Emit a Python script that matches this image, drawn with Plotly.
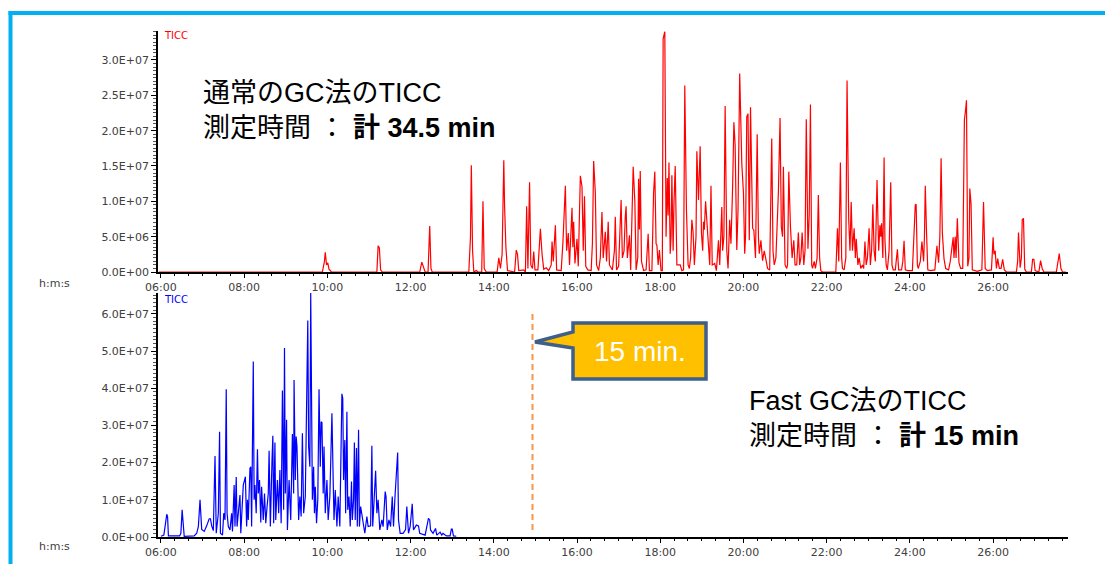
import plotly.graph_objects as go

# ---------------- data ----------------
# Normal GC: retention time (min) and TIC intensity (x1e6 counts)
normal_time = [
    5.95, 9.88, 9.93, 9.95, 9.98, 10.01, 10.04, 10.10,
    11.19, 11.22, 11.25, 11.28, 11.32,
    12.22, 12.27, 12.31, 12.35, 12.42, 12.46, 12.49, 12.52,
    13.40, 13.44, 13.46, 13.49, 13.52, 13.58, 13.62, 13.71, 13.74, 13.77, 13.82,
    14.08, 14.12, 14.16, 14.20, 14.24, 14.26, 14.29, 14.33, 14.50, 14.54, 14.57, 14.60, 14.72, 14.76, 14.79, 14.82, 14.86, 14.89, 14.93, 14.96, 14.99,
    15.06, 15.10, 15.12, 15.16, 15.20, 15.26, 15.32, 15.38, 15.40, 15.43, 15.48, 15.51, 15.62, 15.66, 15.68, 15.72, 15.75, 15.79, 15.82, 15.88, 15.90, 15.92, 15.95,
    16.00, 16.03, 16.08, 16.12, 16.15, 16.18, 16.21, 16.26, 16.34, 16.37, 16.40, 16.44, 16.47, 16.52, 16.56, 16.60, 16.63, 16.68, 16.71, 16.75, 16.78, 16.85, 16.90, 16.92, 16.95,
    17.00, 17.06, 17.09, 17.13, 17.16, 17.18, 17.21, 17.26, 17.29, 17.35, 17.39, 17.42, 17.46, 17.48, 17.50, 17.52, 17.55, 17.60, 17.66, 17.71, 17.74, 17.80, 17.84, 17.87, 17.90, 17.92, 17.95, 17.98,
    18.02, 18.05, 18.07, 18.11, 18.14, 18.17, 18.19, 18.21, 18.24, 18.26, 18.28, 18.31, 18.33, 18.36, 18.40, 18.48, 18.52, 18.56, 18.59, 18.63, 18.67, 18.70, 18.73, 18.76, 18.79, 18.82, 18.86, 18.88, 18.92, 18.96, 18.99,
    19.02, 19.04, 19.06, 19.09, 19.12, 19.15, 19.19, 19.22, 19.25, 19.31, 19.35, 19.40, 19.43, 19.48, 19.50, 19.53, 19.56, 19.60, 19.63, 19.67, 19.70, 19.74, 19.77, 19.80, 19.84, 19.87, 19.91, 19.96,
    20.00, 20.03, 20.05, 20.08, 20.11, 20.14, 20.17, 20.22, 20.25, 20.29, 20.33, 20.36, 20.38, 20.42, 20.46, 20.50, 20.54, 20.58, 20.63, 20.68, 20.71, 20.74, 20.78, 20.81, 20.84, 20.88, 20.91, 20.94, 20.96,
    21.00, 21.04, 21.06, 21.09, 21.13, 21.17, 21.21, 21.24, 21.28, 21.32, 21.35, 21.38, 21.41, 21.45, 21.48, 21.51, 21.55, 21.58, 21.61, 21.64, 21.66, 21.70, 21.73, 21.77, 21.80, 21.83, 21.86, 21.90,
    22.22, 22.26, 22.29, 22.33, 22.36, 22.38, 22.42, 22.46, 22.49, 22.53, 22.56, 22.59, 22.62, 22.66, 22.69, 22.71, 22.75, 22.78, 22.82, 22.86, 22.89, 22.92, 22.95, 22.98,
    23.02, 23.05, 23.08, 23.11, 23.14, 23.17, 23.21, 23.25, 23.28, 23.30, 23.32, 23.35, 23.38, 23.40, 23.43, 23.46, 23.50, 23.54, 23.57, 23.60, 23.65, 23.70, 23.73, 23.80, 23.83, 23.86, 23.89, 23.95,
    24.06, 24.10, 24.13, 24.15, 24.18, 24.20, 24.25, 24.29, 24.33, 24.35, 24.37, 24.40, 24.43, 24.50, 24.60, 24.65, 24.69, 24.72, 24.75, 24.78, 24.82, 24.86, 24.93, 24.97,
    25.00, 25.04, 25.06, 25.09, 25.11, 25.14, 25.18, 25.22, 25.27, 25.29, 25.31, 25.34, 25.36, 25.39, 25.42, 25.44, 25.47, 25.50, 25.55, 25.62, 25.73, 25.77, 25.81, 25.86, 25.96,
    26.00, 26.02, 26.05, 26.08, 26.11, 26.15, 26.19, 26.23, 26.27, 26.32, 26.56, 26.59, 26.61, 26.65, 26.68, 26.70, 26.73, 26.76, 26.80, 26.92, 26.95, 26.98, 27.01, 27.10, 27.14, 27.18, 27.22, 27.52, 27.56, 27.59, 27.63, 27.67, 27.75,
]
normal_tic = [
    0, 0, 1.5, 2.8, 1.0, 1.3, 0.4, 0,
    0, 3.7, 3.4, 0.3, 0,
    0, 1.4, 0.8, 0, 0, 6.5, 0.5, 0,
    0, 5.0, 15.1, 3.0, 0, 0.2, 0, 0, 10.0, 0.5, 0,
    0, 2.0, 0.5, 2.5, 15.8, 9.2, 3.6, 0.2, 0, 3.1, 2.5, 0.2, 0.3, 0, 9.3, 0.5, 12.7, 1.0, 0.5, 2.9, 0.3,
    0.3, 5.0, 6.1, 2.5, 0.4, 0.6, 0.2, 1.0, 4.3, 1.5, 6.6, 0.3, 0.2, 4.0, 7.0, 12.2, 3.0, 5.5, 1.0, 9.1, 3.5, 7.1, 1.2,
    4.7, 0.8, 13.6, 12.1, 3.0, 10.7, 0.8, 0.3, 0.2, 4.0, 15.7, 11.2, 1.0, 0.2, 2.0, 8.5, 2.0, 5.7, 1.5, 7.1, 1.0, 0.3, 3.1, 7.8, 0.3,
    0.8, 10.2, 2.0, 3.0, 7.8, 9.3, 2.0, 5.2, 0.3, 14.9, 10.0, 0.3, 2.0, 13.2, 6.0, 14.3, 1.5, 0.2, 0.3, 5.4, 0.2, 0.2, 11.2, 14.2, 4.0, 3.8, 1.0, 3.1,
    0.2, 0.2, 33.0, 34.0, 5.0, 13.3, 8.0, 15.5, 2.6, 5.0, 13.7, 3.0, 9.7, 15.0, 1.0, 1.0, 0.2, 0.3, 26.4, 8.8, 1.0, 0.5, 2.0, 7.4, 5.6, 1.0, 5.0, 17.1, 10.2, 17.8, 5.6,
    3.0, 7.1, 6.0, 10.0, 7.0, 5.0, 1.0, 12.2, 1.0, 1.2, 0.2, 4.5, 1.0, 9.2, 3.0, 5.0, 23.5, 3.0, 0.5, 7.4, 4.0, 12.1, 21.2, 18.0, 3.1, 8.8, 28.1, 15.4,
    11.2, 2.6, 5.0, 22.0, 22.4, 4.5, 23.3, 6.2, 5.9, 2.0, 19.5, 5.0, 2.6, 4.5, 1.6, 3.0, 1.6, 0.5, 0.3, 18.9, 3.0, 1.0, 2.0, 5.6, 11.3, 21.8, 6.4, 5.0, 14.9,
    1.0, 0.5, 1.0, 14.2, 6.4, 2.0, 4.5, 1.0, 1.0, 5.6, 1.0, 2.0, 5.6, 1.0, 3.0, 21.6, 3.3, 8.0, 23.7, 1.0, 0.5, 1.5, 0.5, 2.0, 10.9, 2.0, 0.2, 0,
    0, 6.2, 1.5, 15.5, 2.0, 0.5, 0.3, 2.0, 27.1, 7.4, 3.0, 9.9, 3.0, 6.2, 2.0, 4.7, 1.0, 2.0, 0.5, 1.0, 0.5, 4.3, 1.0, 2.0,
    6.2, 1.0, 3.0, 9.6, 3.0, 1.5, 13.0, 3.0, 6.6, 5.0, 6.9, 2.0, 16.2, 4.6, 1.0, 0.3, 3.0, 12.7, 1.0, 0.3, 0.3, 3.2, 0.3, 0.3, 1.5, 4.4, 0.3, 0.2,
    0.2, 5.0, 9.5, 9.6, 1.0, 0.5, 1.5, 4.3, 1.5, 5.0, 12.2, 5.6, 0.3, 0.2, 0.3, 3.7, 1.3, 5.0, 16.1, 5.6, 1.9, 0.5, 0.3, 1.5,
    3.2, 4.9, 2.0, 5.0, 2.0, 7.6, 1.3, 0.5, 0.5, 10.0, 21.5, 23.0, 24.3, 0.8, 2.0, 11.8, 9.6, 0.3, 0.2, 0.1, 0.3, 9.9, 0.5, 0.2, 0.3,
    4.9, 2.5, 3.0, 0.5, 1.9, 0.5, 0.5, 1.8, 0.3, 0, 0, 1.5, 5.6, 0.6, 2.0, 7.4, 7.6, 0.4, 0, 0, 1.8, 1.8, 0.2, 0, 1.6, 0.5, 0, 0, 1.5, 2.6, 0.5, 0, 0,
]

# Fast GC: retention time (min) and TIC intensity (x1e7 counts)
fast_time = [
    6.00, 6.07, 6.10, 6.14, 6.16, 6.18, 6.45, 6.48, 6.51, 6.54,
    6.56, 6.80, 6.86, 6.90, 6.94, 6.98, 7.04, 7.10, 7.16, 7.19,
    7.22, 7.26, 7.30, 7.33, 7.38, 7.41, 7.43, 7.48, 7.51, 7.54,
    7.57, 7.59, 7.62, 7.66, 7.70, 7.72, 7.74, 7.76, 7.78, 7.81,
    7.83, 7.86, 7.90, 7.92, 7.96, 7.98, 8.01, 8.03, 8.06, 8.08,
    8.10, 8.14, 8.16, 8.18, 8.22, 8.24, 8.26, 8.29, 8.32, 8.34,
    8.37, 8.40, 8.42, 8.46, 8.49, 8.52, 8.55, 8.58, 8.60, 8.63,
    8.67, 8.69, 8.71, 8.74, 8.76, 8.80, 8.83, 8.86, 8.89, 8.92,
    8.95, 8.97, 8.99, 9.02, 9.04, 9.08, 9.12, 9.16, 9.19, 9.20,
    9.23, 9.25, 9.27, 9.31, 9.34, 9.37, 9.40, 9.43, 9.47, 9.50,
    9.53, 9.55, 9.58, 9.60, 9.62, 9.64, 9.67, 9.69, 9.71, 9.74,
    9.77, 9.80, 9.83, 9.85, 9.87, 9.90, 9.92, 9.95, 9.99, 10.02,
    10.06, 10.11, 10.14, 10.16, 10.19, 10.23, 10.26, 10.30, 10.35, 10.37,
    10.39, 10.42, 10.44, 10.47, 10.49, 10.52, 10.55, 10.58, 10.60, 10.63,
    10.65, 10.67, 10.70, 10.72, 10.75, 10.77, 10.80, 10.84, 10.90, 10.95,
    10.98, 11.04, 11.07, 11.09, 11.13, 11.16, 11.19, 11.22, 11.26, 11.31,
    11.34, 11.39, 11.41, 11.44, 11.48, 11.52, 11.56, 11.59, 11.63, 11.66,
    11.69, 11.71, 11.75, 11.82, 11.88, 11.91, 11.95, 11.99, 12.04, 12.07,
    12.11, 12.14, 12.19, 12.22, 12.35, 12.39, 12.43, 12.46, 12.48, 12.54,
    12.60, 12.63, 12.71, 12.75, 12.78, 12.86, 12.95, 12.98, 13.00, 13.03, 13.10,
]
fast_tic = [
    0.02, 0.05, 0.28, 0.61, 0.55, 0.03, 0.03, 0.10, 0.73, 0.28,
    0.02, 0.03, 0.10, 0.28, 1.00, 0.20, 0.15, 0.30, 0.49, 0.49,
    0.30, 0.17, 2.18, 0.10, 0.64, 2.83, 0.10, 0.05, 0.64, 0.46,
    3.97, 0.64, 0.28, 0.19, 0.64, 0.15, 1.17, 1.40, 0.28, 1.61,
    0.28, 0.64, 1.13, 0.10, 0.82, 1.40, 1.53, 1.62, 0.28, 1.00,
    0.46, 1.85, 1.89, 0.28, 4.72, 1.00, 1.40, 0.64, 2.36, 1.17,
    1.53, 0.39, 1.35, 0.46, 1.17, 0.37, 0.80, 1.17, 2.32, 0.28,
    2.07, 2.72, 0.37, 2.54, 0.46, 1.53, 0.64, 1.80, 0.37, 3.94,
    0.73, 5.08, 1.17, 3.15, 0.19, 1.53, 0.46, 2.77, 1.17, 4.22,
    1.53, 2.70, 2.43, 0.46, 1.09, 0.55, 2.79, 0.64, 1.09, 3.85,
    5.82, 2.43, 1.89, 6.57, 1.50, 1.00, 1.89, 0.64, 1.35, 0.37,
    1.00, 3.97, 1.89, 3.10, 3.08, 1.17, 2.43, 0.64, 1.53, 0.46,
    1.09, 3.33, 1.53, 0.46, 1.26, 0.28, 1.09, 0.28, 3.85, 3.73,
    1.53, 2.61, 0.64, 3.37, 0.73, 1.09, 0.28, 1.49, 0.46, 1.00,
    2.54, 0.46, 2.39, 0.28, 2.88, 0.28, 0.82, 0.55, 0.10, 0.55,
    0.28, 0.30, 2.45, 0.28, 1.00, 1.78, 0.64, 1.00, 0.19, 0.46,
    0.28, 1.22, 1.09, 0.19, 0.46, 0.28, 1.09, 0.28, 1.17, 1.76,
    2.27, 0.46, 0.10, 0.10, 0.20, 0.82, 0.10, 0.28, 0.89, 0.19,
    0.28, 0.32, 0.30, 0.10, 0.05, 0.32, 0.50, 0.46, 0.19, 0.10,
    0.23, 0.05, 0.13, 0.05, 0.10, 0.03, 0.03, 0.21, 0.21, 0.03, 0.02,
]

x_tick_vals = [6, 8, 10, 12, 14, 16, 18, 20, 22, 24, 26]
x_tick_text = ["06:00", "08:00", "10:00", "12:00", "14:00", "16:00",
               "18:00", "20:00", "22:00", "24:00", "26:00"]
normal_y_vals = [0, 5, 10, 15, 20, 25, 30]
normal_y_text = ["0.0E+00", "5.0E+06", "1.0E+07", "1.5E+07", "2.0E+07", "2.5E+07", "3.0E+07"]
fast_y_vals = [0, 1, 2, 3, 4, 5, 6]
fast_y_text = ["0.0E+00", "1.0E+07", "2.0E+07", "3.0E+07", "4.0E+07", "5.0E+07", "6.0E+07"]
fast_end_time = 14.93   # dashed 15 min marker

# ---------------- figure ----------------
W, H = 1105, 564
def px(x):
    return x / W
def py(y):
    return 1 - y / H

fig = go.Figure()
fig.add_trace(go.Scatter(x=normal_time, y=normal_tic, mode="lines",
                         line=dict(color="#FF0000", width=1.2),
                         xaxis="x", yaxis="y", hoverinfo="skip"))
fig.add_trace(go.Scatter(x=fast_time, y=fast_tic, mode="lines",
                         line=dict(color="#0000FF", width=1.2),
                         xaxis="x2", yaxis="y2", hoverinfo="skip"))

tickfont = dict(family="DejaVu Sans", size=11, color="#404040")

def xaxis(anchor):
    return dict(domain=[px(158), px(1068)], anchor=anchor, range=[5.93, 27.8],
                automargin=False,
                tickmode="array", tickvals=x_tick_vals, ticktext=x_tick_text,
                ticks="outside", ticklen=4, tickwidth=1, tickcolor="black",
                showline=True, linecolor="black", linewidth=1.5,
                showgrid=False, zeroline=False, tickfont=tickfont,
                minor=dict(ticks="outside", ticklen=2, tickmode="linear",
                           tick0=6, dtick=1/3, tickcolor="black", showgrid=False))

def yaxis(anchor, dom, rng, vals, text, mdt):
    return dict(domain=dom, anchor=anchor, range=rng,
                automargin=False,
                tickmode="array", tickvals=vals, ticktext=text,
                ticks="outside", ticklen=5, tickwidth=1, tickcolor="black",
                showline=True, linecolor="black", linewidth=1.5,
                showgrid=False, zeroline=False, tickfont=tickfont,
                minor=dict(ticks="outside", ticklen=3, tickmode="linear",
                           tick0=0, dtick=mdt, tickcolor="#555555", showgrid=False))

fig.update_layout(
    width=W, height=H, autosize=False,
    margin=dict(l=0, r=0, t=0, b=0, pad=0, autoexpand=False),
    paper_bgcolor="white", plot_bgcolor="white",
    showlegend=False,
    xaxis=xaxis("y"),
    xaxis2=xaxis("y2"),
    yaxis=yaxis("x", [py(272), py(31)], [0, 34.1], normal_y_vals, normal_y_text, 0.5),
    yaxis2=yaxis("x2", [py(537), py(293)], [0, 6.56], fast_y_vals, fast_y_text, 0.1),
)

big = dict(family="Liberation Sans, Noto Sans CJK JP", size=27, color="black")
ann = [
    dict(text="h:m:s", x=px(55), y=py(283), font=tickfont),
    dict(text="h:m:s", x=px(55), y=py(546), font=tickfont),
    dict(text="TICC", x=px(162), y=py(35), xanchor="left",
         font=dict(family="DejaVu Sans", size=10, color="#FF0000")),
    dict(text="TICC", x=px(162), y=py(299), xanchor="left",
         font=dict(family="DejaVu Sans", size=10, color="#0000FF")),
    dict(text="通常のGC法のTICC<br>測定時間 ：<b> 計 34.5 min</b>", x=px(201), y=py(111),
         xanchor="left", align="left", font=big),
    dict(text="Fast GC法のTICC<br>測定時間 ：<b> 計 15 min</b>", x=px(747), y=py(418),
         xanchor="left", align="left", font=big),
    dict(text="15 min.", x=px(640), y=py(351),
         font=dict(family="Liberation Sans", size=28, color="white")),
]
for a in ann:
    a.setdefault("xanchor", "center")
    a.update(xref="paper", yref="paper", yanchor="middle", showarrow=False)
fig.update_layout(annotations=ann)

callout = (f"M {px(573)},{py(323)} L {px(706)},{py(323)} L {px(706)},{py(379)} "
           f"L {px(573)},{py(379)} L {px(573)},{py(348)} L {px(535)},{py(342)} "
           f"L {px(573)},{py(332)} Z")
shapes = [
    dict(type="line", xref="paper", yref="paper", x0=px(10.5), x1=px(10.5),
         y0=0, y1=py(11), line=dict(color="#00B0F0", width=4)),
    dict(type="line", xref="paper", yref="paper", x0=px(8.5), x1=1,
         y0=py(13), y1=py(13), line=dict(color="#00B0F0", width=4)),
    dict(type="line", xref="x2", yref="y2", x0=fast_end_time, x1=fast_end_time,
         y0=0.19, y1=6.03, line=dict(color="#F79646", width=2, dash="6px,4px")),
    dict(type="path", xref="paper", yref="paper", path=callout,
         fillcolor="#FFC000", line=dict(color="#3E5F8A", width=3.5), layer="above"),
]
fig.update_layout(shapes=shapes)

fig.write_html("out.html")
